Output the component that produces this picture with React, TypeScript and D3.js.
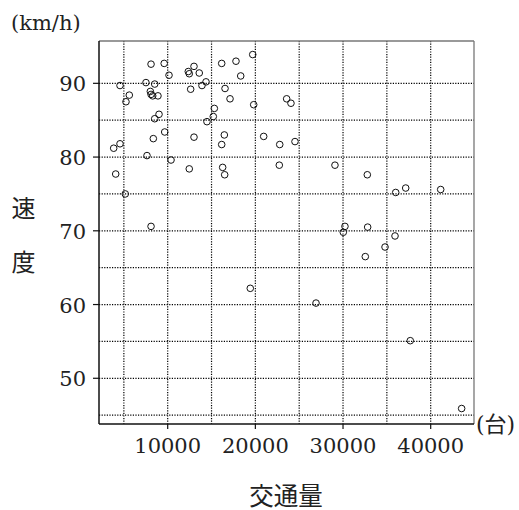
import React from "react";
import * as d3 from "d3";

const traffic = [
  8100, 9600, 10150, 12350, 13000, 12460, 13600, 16160, 17790, 19700,
  18330, 4560, 5620, 5240, 7520, 8520, 8020, 8100, 8290, 8890,
  12620, 13910, 14370, 16540, 17110, 19810, 23570, 24060, 15320, 15200,
  14480, 9010, 8520, 9660, 8360, 13000, 16460, 16160, 20950, 22780,
  24520, 4560, 3840, 7640, 10380, 12460, 16270, 16500, 22730, 4070,
  5160, 8100, 19420, 29080, 32770, 36010, 37150, 41140, 30220, 30030,
  32810, 35930, 34790, 32540, 26920, 37670, 43530,
];
const speed = [
  92.6, 92.7, 91.1, 91.6, 92.3, 91.3, 91.4, 92.7, 93.0, 93.9,
  91.0, 89.7, 88.4, 87.5, 90.1, 89.9, 88.9, 88.5, 88.3, 88.3,
  89.2, 89.7, 90.2, 89.3, 87.9, 87.1, 87.9, 87.3, 86.6, 85.5,
  84.8, 85.8, 85.2, 83.4, 82.5, 82.7, 83.0, 81.7, 82.8, 81.7,
  82.1, 81.8, 81.2, 80.2, 79.6, 78.4, 78.6, 77.6, 78.9, 77.7,
  75.0, 70.6, 62.2, 78.9, 77.6, 75.2, 75.8, 75.6, 70.6, 69.8,
  70.5, 69.3, 67.8, 66.5, 60.2, 55.1, 45.9,
];
const xTicks = [10000, 20000, 30000, 40000];
const yTicks = [50, 60, 70, 80, 90];
const xGrid = [5000, 10000, 15000, 20000, 25000, 30000, 35000, 40000];
const yGrid = [45, 50, 55, 60, 65, 70, 75, 80, 85, 90];

const SERIF = "DejaVu Serif, serif";
const CJK = "Noto Sans CJK JP, Noto Sans CJK SC, sans-serif";

export default function App() {
  const left = 99, right = 474, top = 41, bottom = 424;
  const x = d3.scaleLinear().domain([2164, 44940]).range([left, right]);
  const y = d3.scaleLinear().domain([43.8, 95.74]).range([bottom, top]);

  return (
    <svg
      width={519}
      height={510}
      style={{ position: "absolute", left: 0, top: 0, background: "#fff" }}
    >
      <rect x={0} y={0} width={519} height={510} fill="#fff" />
      {xGrid.map((v) => (
        <line
          key={"gx" + v}
          x1={x(v)}
          x2={x(v)}
          y1={top}
          y2={bottom}
          stroke="#000"
          strokeWidth={1.2}
          strokeDasharray="1.2,1.4"
        />
      ))}
      {yGrid.map((v) => (
        <line
          key={"gy" + v}
          x1={left}
          x2={right}
          y1={y(v)}
          y2={y(v)}
          stroke="#000"
          strokeWidth={1.2}
          strokeDasharray="1.2,1.4"
        />
      ))}
      <line x1={left} x2={right} y1={top} y2={top} stroke="#777" strokeWidth={1.3} />
      <line x1={right} x2={right} y1={top} y2={bottom} stroke="#777" strokeWidth={1.3} />
      <line x1={left} x2={left} y1={top} y2={bottom} stroke="#111" strokeWidth={1.5} />
      <line x1={left} x2={right} y1={bottom} y2={bottom} stroke="#111" strokeWidth={1.5} />
      {yTicks.map((v) => (
        <g key={"yt" + v}>
          <line x1={left - 6} x2={left} y1={y(v)} y2={y(v)} stroke="#111" strokeWidth={1.2} />
          <text
            x={86}
            y={y(v) + 8}
            textAnchor="end"
            style={{ fontFamily: SERIF, fontSize: "21px" }}
            fill="#222"
          >
            {v}
          </text>
        </g>
      ))}
      {xTicks.map((v) => (
        <g key={"xt" + v}>
          <line x1={x(v)} x2={x(v)} y1={bottom} y2={bottom + 5} stroke="#111" strokeWidth={1.2} />
          <text
            x={x(v)}
            y={453}
            textAnchor="middle"
            style={{ fontFamily: SERIF, fontSize: "21px" }}
            fill="#222"
          >
            {v}
          </text>
        </g>
      ))}
      {traffic.map((t, i) => (
        <circle
          key={"p" + i}
          cx={x(t)}
          cy={y(speed[i])}
          r={3.3}
          fill="none"
          stroke="#111"
          strokeWidth={1}
        />
      ))}
      <text x={11} y={30} style={{ fontFamily: SERIF, fontSize: "21px" }} fill="#222">
        (km/h)
      </text>
      <text x={23.5} y={206} textAnchor="middle" dominantBaseline="central" style={{ fontFamily: CJK, fontSize: "24px" }} fill="#222">
        速
      </text>
      <text x={23.5} y={260} textAnchor="middle" dominantBaseline="central" style={{ fontFamily: CJK, fontSize: "24px" }} fill="#222">
        度
      </text>
      <text x={286} y={494} textAnchor="middle" dominantBaseline="central" style={{ fontFamily: CJK, fontSize: "24.5px" }} fill="#222">
        交通量
      </text>
      <text x={476} y={432} fill="#222" style={{ fontSize: "22px" }}>
        <tspan style={{ fontFamily: SERIF }}>(</tspan>
        <tspan style={{ fontFamily: CJK }}>台</tspan>
        <tspan style={{ fontFamily: SERIF }}>)</tspan>
      </text>
    </svg>
  );
}
